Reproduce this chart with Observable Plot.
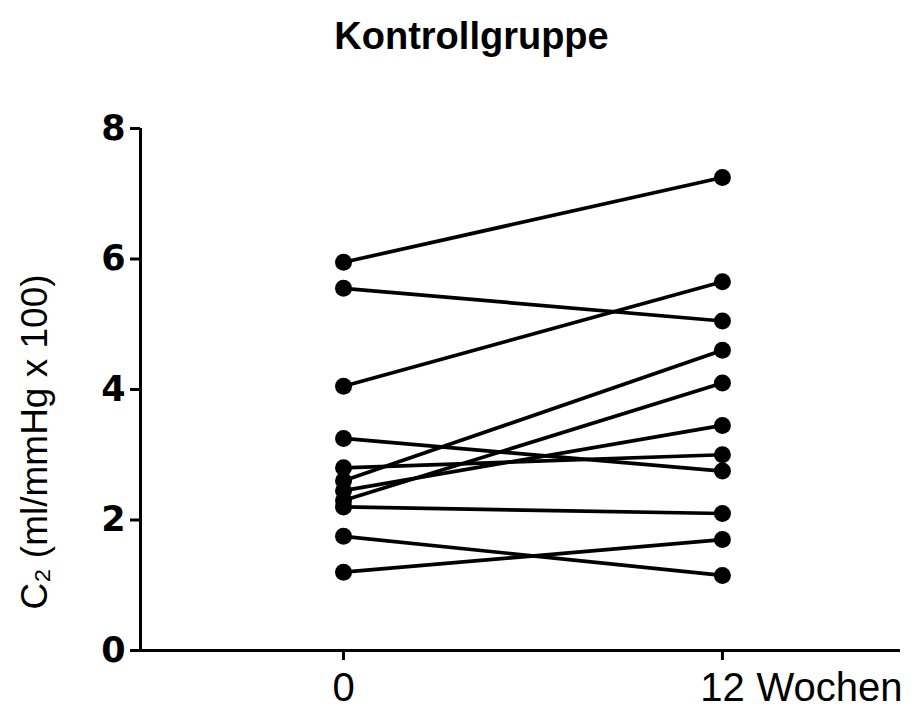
<!DOCTYPE html>
<html>
<head>
<meta charset="utf-8">
<script src="https://cdn.jsdelivr.net/npm/d3@7"></script>
<script src="https://cdn.jsdelivr.net/npm/@observablehq/plot@0.6"></script>
<style>
  html, body { margin: 0; padding: 0; background: #fff; }
</style>
</head>
<body>
<div id="chart"></div>
<script>
// ---- data ----
const title = "Kontrollgruppe";
const yLabel = "C\u2082 (ml/mmHg x 100)";
const xUnitLabel = "Wochen";
const weeks = [0, 12];
const weekTickLabels = ["0", "12"];
const yTicks = [0, 2, 4, 6, 8];
const week0 = [5.95, 5.55, 4.05, 3.25, 2.8, 2.6, 2.45, 2.3, 2.2, 1.75, 1.2];
const week12 = [7.25, 5.05, 5.65, 2.75, 3.0, 4.6, 3.45, 4.1, 2.1, 1.15, 1.7];
const xDomain = [-6.43, 17.64];
const yDomain = [0, 8];

const subjects = week0.map((v, i) => ({ id: i, t0: v, t12: week12[i] }));
const points = subjects.flatMap(s => [
  { id: s.id, week: weeks[0], value: s.t0 },
  { id: s.id, week: weeks[1], value: s.t12 }
]);

const chart = Plot.plot({
  width: 914,
  height: 716,
  marginTop: 128,
  marginBottom: 66,
  marginLeft: 140,
  marginRight: 14,
  style: { fontFamily: "'Liberation Sans', Arial, sans-serif", background: "#fff", color: "#000" },
  x: { type: "linear", domain: xDomain, axis: null },
  y: { domain: yDomain, axis: null },
  marks: [
    Plot.link(subjects, {
      x1: () => weeks[0], y1: "t0",
      x2: () => weeks[1], y2: "t12",
      stroke: "#000", strokeWidth: 3.7
    }),
    Plot.dot(points, { x: "week", y: "value", r: 8.5, fill: "#000", stroke: "none" }),
    Plot.ruleY([yDomain[0]], { stroke: "#000", strokeWidth: 3 }),
    Plot.ruleX([xDomain[0]], { y1: yDomain[0], y2: yDomain[1], stroke: "#000", strokeWidth: 3 }),
    Plot.axisY({
      ticks: yTicks, tickSize: 10, tickPadding: 5, strokeWidth: 3,
      fontSize: 35, fontWeight: "bold", fontFamily: "'DejaVu Sans', sans-serif",
      label: null
    }),
    Plot.axisX({
      ticks: weeks, tickSize: 10, tickPadding: 12, strokeWidth: 3,
      tickFormat: (d, i) => weekTickLabels[weeks.indexOf(d)],
      fontSize: 40, label: null
    }),
    Plot.text([xUnitLabel], {
      x: () => weeks[1], frameAnchor: "bottom",
      dx: 34, dy: 22, textAnchor: "start", lineAnchor: "top",
      fontSize: 40
    }),
    Plot.text([yLabel], {
      frameAnchor: "left", rotate: -90, dx: -105, dy: 220, fontSize: 37
    }),
    Plot.text([title], {
      frameAnchor: "top", dx: -49, dy: -106, fontSize: 38, fontWeight: "bold"
    })
  ]
});
document.getElementById("chart").appendChild(chart);
</script>
</body>
</html>
